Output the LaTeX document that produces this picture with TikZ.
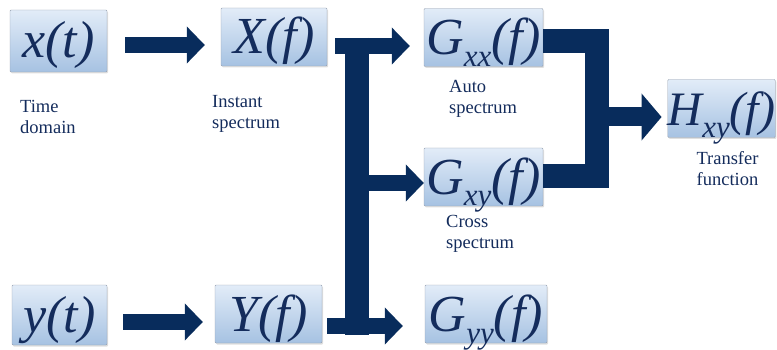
\documentclass[tikz,border=0pt]{standalone}
\usepackage{fontspec}
\setmainfont{Liberation Serif}
\definecolor{specnavy}{RGB}{8,44,92}
\definecolor{specink}{RGB}{20,44,92}
\definecolor{boxtop}{RGB}{226,236,248}
\definecolor{boxbot}{RGB}{166,194,226}
\definecolor{boxrim}{RGB}{150,160,175}
\usepackage{tikz}
\usetikzlibrary{arrows.meta, positioning, shadows}
\newcommand{\lo}[1]{\raisebox{-12pt}{\fontsize{31}{31}\selectfont #1}}

\begin{document}
\begin{tikzpicture}[x=1pt, y=-1pt,
  box/.style={draw=boxrim, top color=boxtop, bottom color=boxbot, rounded corners=1pt, minimum height=58pt, inner sep=0pt, text height=40pt, text depth=6pt, font=\fontsize{52}{52}\selectfont\itshape, text=specink, drop shadow={opacity=0.25, shadow xshift=1pt, shadow yshift=-1.5pt}},
  lbl/.style={font=\fontsize{18.5}{21}\selectfont, text=specink, align=left, inner sep=0pt},
  arr/.style={-{Triangle[length=18pt, width=36pt]}, line width=16pt, specnavy},
  bar/.style={line width=24pt, specnavy, line join=miter},
]
  \useasboundingbox (0,0) rectangle (777,350);

  \node[box, minimum width=97pt, minimum height=62pt] (xt) at (58.5,41) {x(t)};
  \node[box, minimum width=106pt] (Xf) at (274,37) {X(f)};
  \node[box, minimum width=119pt] (Gxx) at (483.5,37.5) {G\lo{xx}(f)};
  \node[box, minimum width=119pt] (Gxy) at (483.5,177) {G\lo{xy}(f)};
  \node[box, minimum width=122pt] (Gyy) at (486,314) {G\lo{yy}(f)};
  \node[box, minimum width=107pt, font=\fontsize{48}{48}\selectfont\itshape] (Hxy) at (721.5,108.5) {H\lo{xy}(f)};
  \node[box, minimum width=95pt, minimum height=60pt] (yt) at (59.5,315) {y(t)};
  \node[box, minimum width=107pt] (Yf) at (268.5,314) {Y(f)};

  \node[lbl, anchor=north west] (tdom) at (20,100) {Time\\domain};
  \node[lbl, anchor=north west] (inst) at (212,95) {Instant\\spectrum};
  \node[lbl, anchor=north west] (auto) at (449,80) {Auto\\spectrum};
  \node[lbl, anchor=north west] (cross) at (446,215) {Cross\\spectrum};
  \node[lbl, align=center, below=14pt of Hxy, xshift=6pt] (tf) {Transfer\\function};

  \coordinate (splitT) at (357,46);
  \coordinate (splitM) at (357,183);
  \coordinate (splitB) at (357,326);
  \coordinate (mergeT) at (597,41);
  \coordinate (mergeB) at (597,176);
  \coordinate (mergeO) at (609,117);

  \draw[arr, shorten <=18pt, shorten >=16pt] ([yshift=-4pt]xt.east) -- ([yshift=-4pt]xt.east -| Xf.west);
  \draw[arr, shorten <=16pt, shorten >=12pt] ([yshift=-7pt]yt.east) -- ([yshift=-7pt]yt.east -| Yf.west);

  % Split to the spectra
  \draw[bar] ([yshift=8pt]splitT) -- ([yshift=-9pt]splitB);
  \draw[arr, shorten <=8pt, shorten >=14pt] (Xf.east |- splitT) -- (Gxx.west |- splitT);
  \draw[arr] (splitM) -- (Gxy.west |- splitM);
  \draw[arr, shorten <=5pt, shorten >=22pt] (Yf.east |- splitB) -- (Gyy.west |- splitB);

  % Merge into the transfer function
  \draw[bar] (Gxx.east |- mergeT) -- (mergeT) -- (mergeB) -- (Gxy.east |- mergeB);
  \draw[arr, -{Triangle[length=20pt, width=46pt]}, line width=19pt, shorten >=6pt] (mergeO) -- (Hxy.west |- mergeO);
\end{tikzpicture}
\end{document}
